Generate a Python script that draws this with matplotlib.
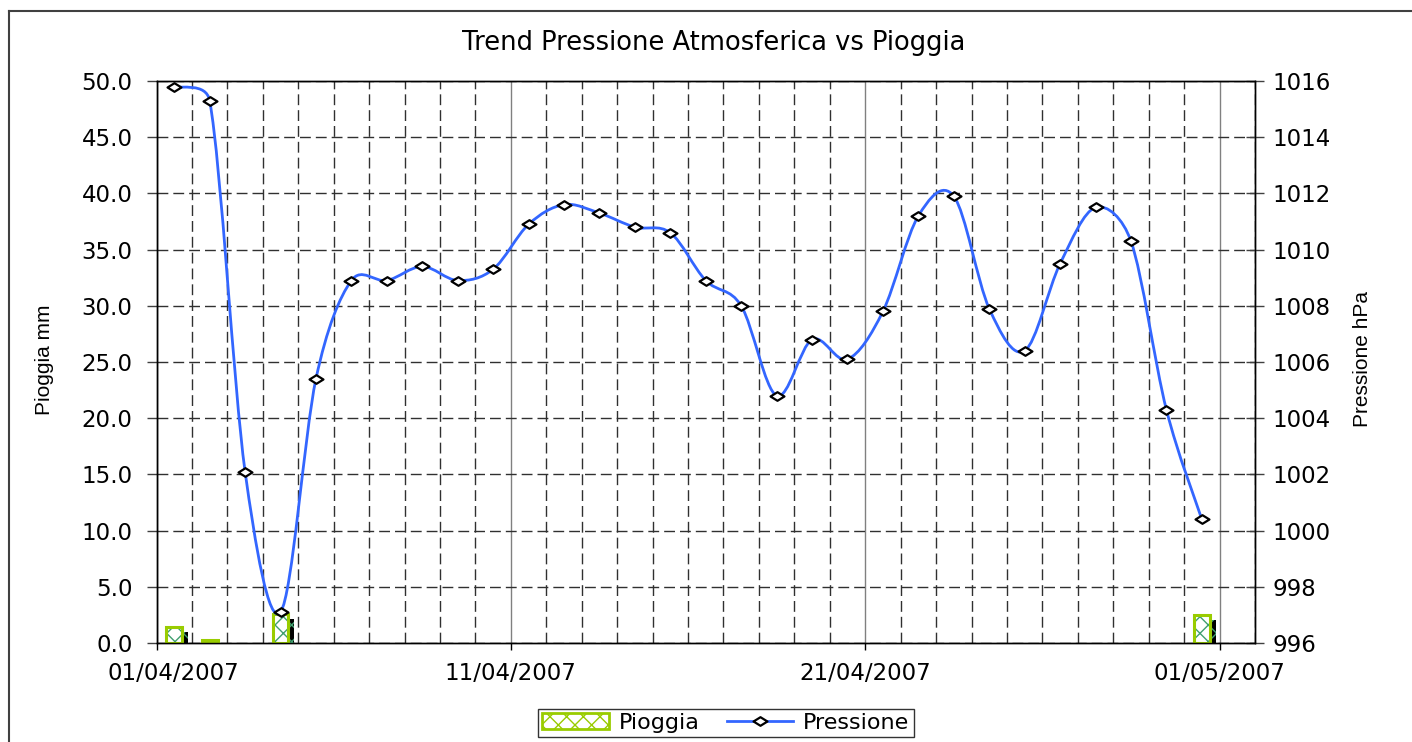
import matplotlib
matplotlib.use('Agg')
import matplotlib.pyplot as plt
import matplotlib.dates as mdates
import matplotlib.patheffects as pe
import matplotlib.transforms as mtransforms
from matplotlib.path import Path
from matplotlib.patches import PathPatch, Rectangle
from matplotlib.lines import Line2D
import numpy as np
import pandas as pd

# ---------------- data ----------------
dates = pd.date_range('2007-04-01', periods=30, freq='D')
pressione = [1015.8, 1015.3, 1002.1, 997.1, 1005.4, 1008.9, 1008.9, 1009.4,
             1008.9, 1009.3, 1010.9, 1011.6, 1011.3, 1010.8, 1010.6, 1008.9,
             1008.0, 1004.8, 1006.8, 1006.1, 1007.8, 1011.2, 1011.9, 1007.9,
             1006.4, 1009.5, 1011.5, 1010.3, 1004.3, 1000.4]
pioggia = [1.4, 0.3, 0.0, 2.6, 0.0, 0.0, 0.0, 0.0, 0.0, 0.0,
           0.0, 0.0, 0.0, 0.0, 0.0, 0.0, 0.0, 0.0, 0.0, 0.0,
           0.0, 0.0, 0.0, 0.0, 0.0, 0.0, 0.0, 0.0, 0.0, 2.5]
left_ticks = [0, 5, 10, 15, 20, 25, 30, 35, 40, 45, 50]
right_ticks = [996, 998, 1000, 1002, 1004, 1006, 1008, 1010, 1012, 1014, 1016]
title = 'Trend Pressione Atmosferica vs Pioggia'

# ---------------- figure ----------------
W, H = 1412, 742
fig = plt.figure(figsize=(W / 100, H / 100), dpi=100)
FONT = 'DejaVu Sans'
plt.rcParams['font.family'] = FONT

ax = fig.add_axes([156.5 / W, 1 - 643 / H, (1255 - 156.5) / W, (643 - 81) / H])
ax2 = ax.twinx()

x = mdates.date2num(dates.to_pydatetime()) + 0.5
x0 = mdates.date2num(pd.Timestamp('2007-04-01').to_pydatetime())
x1 = mdates.date2num(pd.Timestamp('2007-05-02').to_pydatetime())

ax.set_xlim(x0, x1)
ax.set_ylim(0, 50)
ax2.set_ylim(996, 1016)
ax2.set_xlim(x0, x1)

# bars (only non-zero values are visible in the original)
pio = np.array(pioggia)
mask = pio > 0
green_edge = '#99CC00'
hatch_col = '#40A070'
plt.rcParams['hatch.linewidth'] = 1.0
bars_fill = ax.bar(x[mask], pio[mask], width=0.45, color='white',
                   edgecolor=hatch_col, hatch='xx', linewidth=0, zorder=3)
for b in bars_fill:
    b.set_path_effects([pe.SimplePatchShadow(offset=(4.3, -3.6),
                                             shadow_rgbFace='black', alpha=1.0),
                        pe.Normal()])
ax.bar(x[mask], pio[mask], width=0.45, fill=False, edgecolor=green_edge,
       linewidth=2.2, zorder=4)

# smoothed pressure line (Excel-like Bezier smoothing, computed in display space)
pts_d = ax2.transData.transform(np.column_stack([x, np.array(pressione)]))
n = len(pts_d)
verts = [pts_d[0]]
codes = [Path.MOVETO]


def clamp(v, maxlen):
    L = np.hypot(*v)
    if L > maxlen and L > 0:
        return v * (maxlen / L)
    return v


for i in range(n - 1):
    p0 = pts_d[i - 1] if i > 0 else pts_d[0]
    p1 = pts_d[i]
    p2 = pts_d[i + 1]
    p3 = pts_d[i + 2] if i + 2 < n else pts_d[n - 1]
    seg = np.hypot(*(p2 - p1))
    v1 = clamp((p2 - p0) / 6.0, 0.5 * seg)
    v2 = clamp((p3 - p1) / 6.0, 0.5 * seg)
    verts += [p1 + v1, p2 - v2, p2]
    codes += [Path.CURVE4] * 3
verts_data = ax2.transData.inverted().transform(np.array(verts))
line_col = '#3366FF'
ax2.add_patch(PathPatch(Path(verts_data, codes), facecolor='none',
                        edgecolor=line_col, linewidth=2.0, zorder=3,
                        transform=ax2.transData))
diamond = Path([(-1.0, 0.0), (0.0, 0.62), (1.0, 0.0), (0.0, -0.62), (-1.0, 0.0)],
               [Path.MOVETO, Path.LINETO, Path.LINETO, Path.LINETO, Path.CLOSEPOLY])
ax2.plot(x, pressione, linestyle='none', marker=diamond, markersize=10,
         markerfacecolor='white', markeredgecolor='black', markeredgewidth=1.6,
         zorder=4)

# ---------------- axes ----------------
ax.xaxis.set_major_locator(mdates.DayLocator(bymonthday=[1, 11, 21]))
ax.xaxis.set_minor_locator(mdates.DayLocator())
ax.xaxis.set_major_formatter(mdates.DateFormatter('%d/%m/%Y'))

ax.set_yticks(left_ticks)
ax.set_yticklabels([f'{v:.1f}' for v in left_ticks])
ax2.set_yticks(right_ticks)
ax2.set_yticklabels([str(v) for v in right_ticks])

fs = 16.5
ax.tick_params(axis='y', direction='out', length=7.2, width=1, pad=10,
               labelsize=fs, color='#404040')
ax.tick_params(axis='x', which='major', direction='out', length=5, width=1,
               pad=9, labelsize=fs)
ax.tick_params(axis='x', which='minor', length=0)
ax2.tick_params(axis='y', direction='inout', length=13, width=1, pad=6,
                labelsize=fs, color='#404040')

dash = (0, (7.8, 3.6))
ax.set_axisbelow(True)
ax.yaxis.grid(True, which='major', color='#303030', linestyle=dash, linewidth=1)
ax.xaxis.grid(True, which='minor', color='#303030', linestyle=dash, linewidth=1)
ax.xaxis.grid(True, which='major', color='#808080', linestyle='-', linewidth=1)

for a in (ax, ax2):
    for s in a.spines.values():
        s.set_color('black')
        s.set_linewidth(1.0)

# shift first date label like the original
fig.canvas.draw()
t0 = ax.xaxis.get_major_ticks()[0].label1
t0.set_transform(t0.get_transform() +
                 mtransforms.ScaledTranslation(0.17, 0, fig.dpi_scale_trans))

# ---------------- texts ----------------
fig.text(714 / W, 1 - 43 / H, title, ha='center', va='center', fontsize=18.5)
narrow = ['Liberation Sans Narrow', 'Liberation Sans', 'DejaVu Sans']
fig.text(45 / W, 1 - 360 / H, 'Pioggia mm', rotation=90, ha='center',
         va='center', fontsize=15, family=narrow)
fig.text(1362 / W, 1 - 359 / H, 'Pressione hPa', rotation=90, ha='center',
         va='center', fontsize=15, family=narrow)

# legend
h_bar = Rectangle((0, 0), 1, 1, facecolor='white', edgecolor=green_edge,
                  hatch='xx', linewidth=2)
h_line = Line2D([], [], color=line_col, linewidth=2.0, marker=diamond,
                markersize=10, markerfacecolor='white', markeredgecolor='black',
                markeredgewidth=1.6)
leg = fig.legend([h_bar, h_line], ['Pioggia', 'Pressione'], loc='center',
                 bbox_to_anchor=(726 / W, 1 - 723 / H), ncol=2, fontsize=16,
                 frameon=True, fancybox=False, edgecolor='black',
                 handlelength=3.0, handletextpad=0.45, columnspacing=1.2,
                 borderpad=0.2, borderaxespad=0)
leg.get_frame().set_linewidth(1.0)

# outer chart frame
fig.add_artist(Line2D([9 / W, 9 / W], [1 - 11 / H, -0.05], color='#404040',
                      linewidth=1.5, transform=fig.transFigure))
fig.add_artist(Line2D([9 / W, 1.05], [1 - 11 / H, 1 - 11 / H], color='#404040',
                      linewidth=1.5, transform=fig.transFigure))

fig.savefig('out.png', dpi=100)
